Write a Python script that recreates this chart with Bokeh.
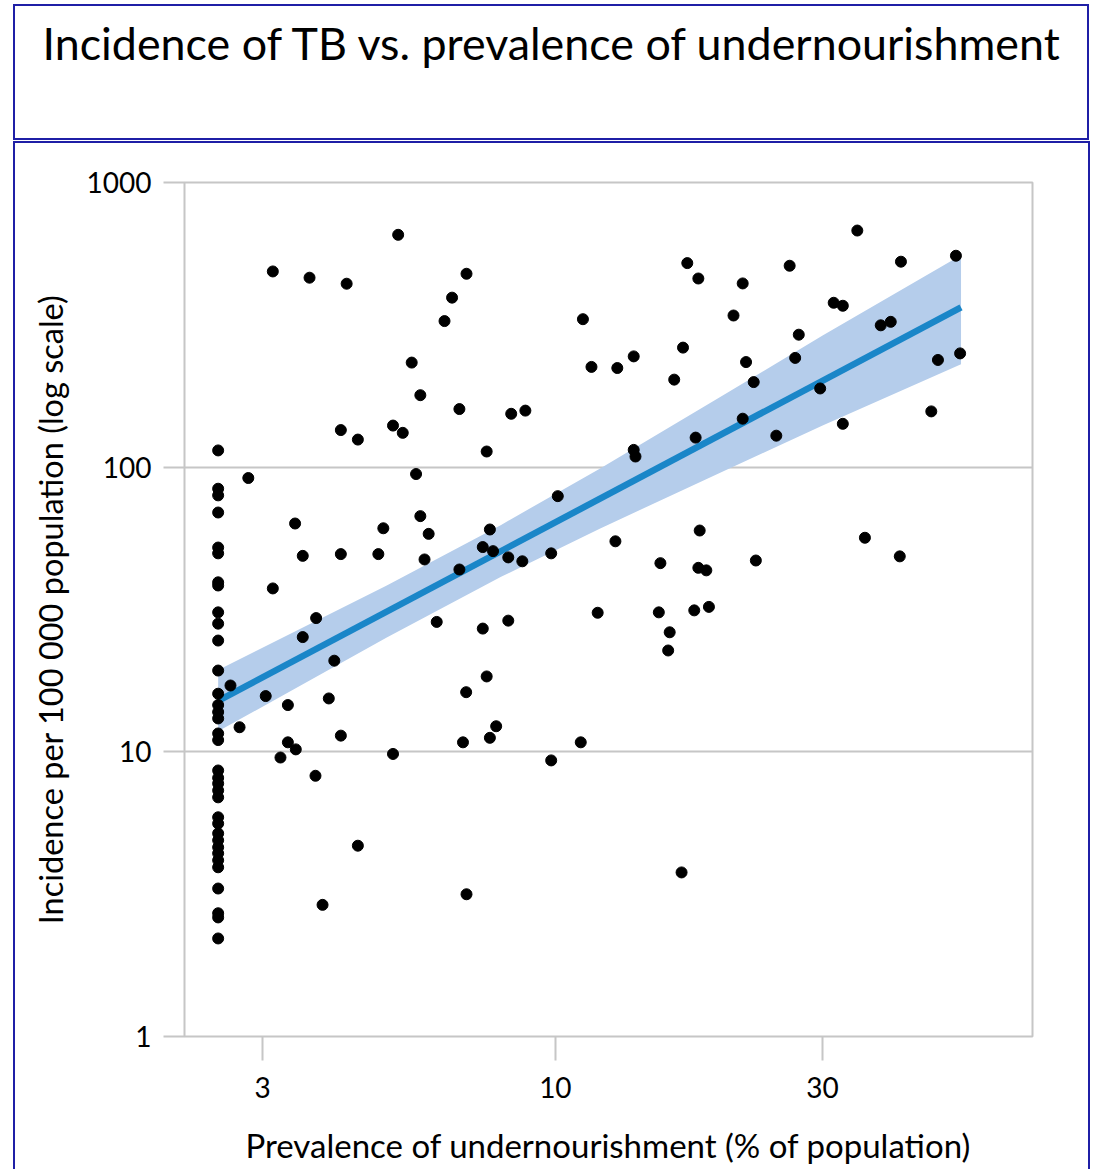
from bokeh.plotting import figure
from bokeh.models import Range1d, FixedTicker, PrintfTickFormatter, InlineStyleSheet
from bokeh.embed import file_html
from bokeh.resources import INLINE

title_text = "Incidence of TB vs. prevalence of undernourishment"
x_label = "Prevalence of undernourishment (% of population)"
y_label = "Incidence per 100 000 population (log scale)"
x_ticks = [3, 10, 30]
y_ticks = [1, 10, 100, 1000]

# countries at the lower bound of undernourishment (2.5 %)
floor_undernourishment = 2.5
floor_incidence = [114.5, 84, 79.6, 69.3, 52.2, 49.8, 39.4, 38.4, 30.9, 28.2, 24.6,
                   19.3, 16.0, 14.6, 13.8, 13.1, 11.6, 11.0, 8.6, 8.1, 7.74, 7.32,
                   6.92, 5.89, 5.60, 5.17, 4.89, 4.62, 4.40, 4.16, 3.93, 3.31, 2.71,
                   2.62, 2.21]

undernourishment = [5.24, 3.13, 3.64, 4.24, 6.94, 6.54, 6.34, 5.54, 5.74, 6.74,
                    4.14, 4.44, 5.13, 5.34, 7.54, 2.83, 5.64, 17.2, 18.0, 21.6,
                    26.2, 11.2, 20.8, 27.2, 26.8, 16.9, 21.9, 22.6, 11.6, 12.9,
                    13.8, 8.34, 8.84, 16.3, 21.6, 17.8, 24.8, 13.8, 13.9, 34.6,
                    41.4, 51.9, 31.4, 32.6, 38.1, 39.7, 52.8, 48.2, 29.7, 46.9,
                    32.6, 3.43, 5.74, 4.93, 5.94, 7.64, 3.54, 4.14, 4.83, 5.84,
                    7.42, 7.74, 6.74, 3.13, 3.74, 3.54, 6.14, 7.42, 4.03, 7.54,
                    2.63, 3.04, 3.33, 3.94, 6.93, 2.73, 7.84, 7.64, 4.14, 6.84,
                    3.33, 3.44, 3.23, 5.13, 10.1, 8.24, 8.73, 9.83, 12.8, 18.1,
                    15.4, 18.0, 18.6, 22.8, 11.9, 15.3, 17.7, 18.8, 8.24, 16.0,
                    15.9, 11.1, 9.83, 35.7, 41.2, 3.73, 4.44, 3.84, 6.94, 16.8]
incidence = [655, 487, 463, 441, 478, 394, 326, 233, 179, 160,
             135, 125, 140, 132, 113.5, 91.6, 94.6, 521, 460, 442,
             510, 331, 341, 292, 242, 263, 234, 199, 225, 223,
             245, 154, 158, 203, 148, 127, 129, 115, 109, 678,
             527, 553, 378, 369, 315, 324, 251, 238, 189, 157,
             142, 63.4, 67.3, 61.0, 58.3, 60.4, 48.8, 49.5, 49.5, 47.4,
             52.4, 50.7, 43.7, 37.5, 29.5, 25.3, 28.6, 27.1, 20.9, 18.4,
             17.1, 15.7, 14.6, 15.4, 16.2, 12.2, 12.3, 11.2, 11.4, 10.8,
             10.8, 10.2, 9.55, 9.83, 79.1, 48.2, 46.7, 49.8, 54.9, 59.9,
             46.0, 44.3, 43.4, 47.0, 30.8, 30.9, 31.4, 32.3, 28.9, 26.3,
             22.7, 10.8, 9.33, 56.5, 48.6, 8.24, 4.68, 2.90, 3.16, 3.77]

fit_x = [2.5, 53]
fit_y = [15.1, 364]
band_x = [2.5, 5, 8, 12, 20, 30, 53]
band_lo = [11.8, 25.2, 41.2, 60.8, 97.0, 140, 230]
band_hi = [19.4, 38.4, 62.7, 98.8, 179.5, 290, 555]

FL, FT, FR, FB = 184, 182, 1032, 1036
W, H = 1094, 1169
font = "Lato"
box_blue = "#1f1fa6"

p = figure(width=W, height=H, x_axis_type="log", y_axis_type="log",
           x_range=Range1d(2.177, 71.1), y_range=Range1d(1, 1000),
           output_backend="svg", toolbar_location=None,
           min_border_left=FL, min_border_right=W - FR,
           min_border_top=FT, min_border_bottom=H - FB,
           background_fill_color="white", border_fill_color="white")

p.title.text = title_text
p.title.align = "left"
p.title.offset = 42 - FL
p.title.standoff = 10
p.title.padding = dict(left=0, right=0, top=0, bottom=108)
p.title.text_font = font
p.title.text_font_size = "44.8px"
p.title.text_font_style = "normal"
p.title.text_color = "black"

# the two blue panels: title box and box around the plot
p.stylesheets = [InlineStyleSheet(css=(
    ":host::before { content: ''; position: absolute; left: 13px; top: 4px; "
    "width: 1076px; height: 136px; box-sizing: border-box; "
    f"border: 2px solid {box_blue}; pointer-events: none; z-index: 10; }}"
    ":host::after { content: ''; position: absolute; left: 13px; top: 141px; "
    "width: 1077px; height: 1028px; box-sizing: border-box; "
    f"border: 2px solid {box_blue}; border-bottom: none; "
    "pointer-events: none; z-index: 10; }"))]

p.outline_line_color = "#c6c6c6"
p.outline_line_width = 2
p.xgrid.grid_line_color = None
p.ygrid.grid_line_color = "#c6c6c6"
p.ygrid.grid_line_width = 2

p.xaxis.ticker = FixedTicker(ticks=x_ticks)
p.yaxis.ticker = FixedTicker(ticks=y_ticks)
p.ygrid.ticker = FixedTicker(ticks=y_ticks)
for ax in (p.xaxis[0], p.yaxis[0]):
    ax.formatter = PrintfTickFormatter(format="%d")
    ax.axis_line_color = None
    ax.major_tick_line_color = "#c6c6c6"
    ax.major_tick_line_width = 2
    ax.major_tick_in = 0
    ax.minor_tick_line_color = None
    ax.major_label_text_font = font
    ax.major_label_text_font_size = "28px"
    ax.major_label_text_color = "black"
    ax.axis_label_text_font = font
    ax.axis_label_text_font_style = "normal"
    ax.axis_label_text_color = "black"
p.xaxis.axis_label_text_font_size = "33px"
p.yaxis.axis_label_text_font_size = "32.5px"
p.xaxis.major_tick_out = 24
p.yaxis.major_tick_out = 21
p.xaxis.major_label_standoff = 16
p.yaxis.major_label_standoff = 12
p.xaxis.axis_label = x_label
p.yaxis.axis_label = y_label
p.xaxis.axis_label_standoff = 24
p.yaxis.axis_label_standoff = 14

p.varea(x=band_x, y1=band_lo, y2=band_hi, fill_color="#b5cdeb", fill_alpha=1.0)
p.line(x=fit_x, y=fit_y, line_color="#1a86c8", line_width=6.5)
p.scatter(x=[floor_undernourishment] * len(floor_incidence), y=floor_incidence,
          size=11, fill_color="black", line_color="black")
p.scatter(x=undernourishment, y=incidence, size=11, fill_color="black", line_color="black")

open("out.html", "w").write(file_html(p, INLINE))
